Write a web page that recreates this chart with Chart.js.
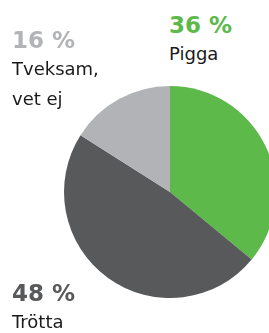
<!DOCTYPE html>
<html>
<head>
<meta charset="utf-8">
<script src="https://cdn.jsdelivr.net/npm/chart.js@4"></script>
<style>
html,body{margin:0;padding:0;width:269px;height:333px;overflow:hidden;background:#fff;}
#wrap{position:absolute;left:64px;top:86px;width:212px;height:212px;}
.lbl{position:absolute;font-family:"DejaVu Sans",sans-serif;white-space:nowrap;}
.pct{font-weight:bold;font-size:23px;line-height:27px;}
.name{font-size:18px;line-height:30px;color:#1a1a1a;}
</style>
</head>
<body>
<div id="wrap"><canvas id="c"></canvas></div>
<div id="labels"></div>
<script>
const categories = ["Pigga", "Trötta", "Tveksam,\nvet ej"];
const values = [36, 48, 16];
const colors = ["#5cb94a", "#58595b", "#b1b3b6"];
const labelPos = [[169, 12], [12, 280], [12, 27]];

new Chart(document.getElementById('c'), {
  type: 'pie',
  data: {
    labels: categories,
    datasets: [{ data: values, backgroundColor: colors, borderWidth: 0 }]
  },
  options: {
    responsive: true,
    maintainAspectRatio: false,
    animation: false,
    layout: { padding: 0 },
    plugins: { legend: { display: false }, tooltip: { enabled: false } }
  }
});

const box = document.getElementById('labels');
categories.forEach((cat, i) => {
  const d = document.createElement('div');
  d.className = 'lbl';
  d.style.left = labelPos[i][0] + 'px';
  d.style.top = labelPos[i][1] + 'px';
  const p = document.createElement('div');
  p.className = 'pct';
  p.style.color = colors[i];
  p.textContent = values[i] + ' %';
  d.appendChild(p);
  cat.split('\n').forEach(line => {
    const n = document.createElement('div');
    n.className = 'name';
    n.textContent = line;
    d.appendChild(n);
  });
  box.appendChild(d);
});
</script>
</body>
</html>
